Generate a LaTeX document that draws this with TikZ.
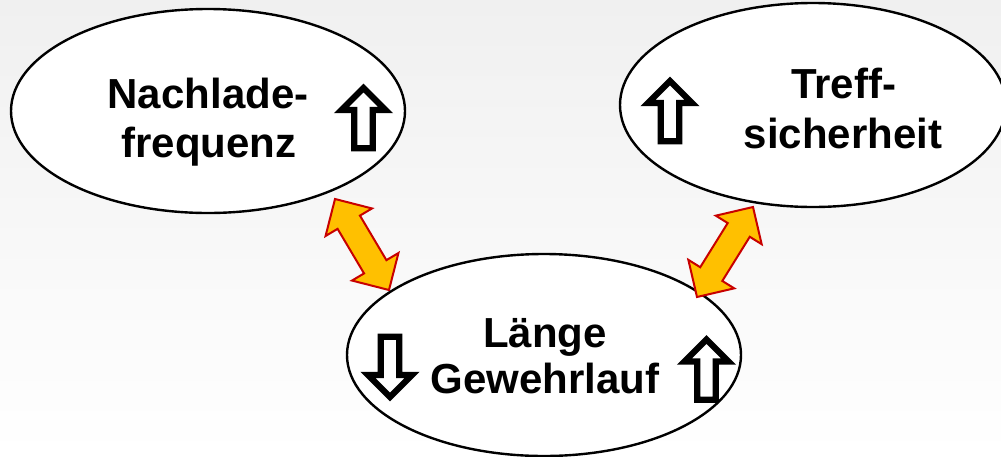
\documentclass[tikz,border=0pt]{standalone}
\usepackage{fontspec}
\setmainfont{Liberation Sans}
\usetikzlibrary{shapes.geometric,calc}
\definecolor{bggray}{RGB}{240,240,240}
\definecolor{arrfill}{RGB}{255,192,0}
\definecolor{arrline}{RGB}{200,0,0}
\tikzset{
  oval/.style={ellipse, draw=black, line width=2.4pt, fill=white, inner sep=0pt},
  lbl/.style={anchor=base, inner sep=0pt, font=\fontsize{42}{48}\selectfont\bfseries},
  blockarrow/.style={draw=black, fill=white, line width=6.3pt, miter limit=10},
  dblarrow/.style={draw=arrline, fill=arrfill, line width=2pt, miter limit=10}
}
\newcommand\blockup[3]{%
  \begin{scope}[shift={(#1,#2)}, rotate=#3]
  \draw[blockarrow] (0,-29.5) -- (22,-7.5) -- (9.25,-7.5) -- (9.25,30.75)
      -- (-9.25,30.75) -- (-9.25,-7.5) -- (-22,-7.5) -- cycle;
  \end{scope}}
\newcommand\dblarrowpath[3]{%
  \coordinate (#1-p) at ($(#2)!27pt!(#3)$);
  \coordinate (#1-q) at ($(#3)!27pt!(#2)$);
  \draw[dblarrow] (#2) -- ($(#1-p)!27pt!90:(#3)$) -- ($(#1-p)!13pt!90:(#3)$)
    -- ($(#1-q)!13pt!-90:(#2)$) -- ($(#1-q)!27pt!-90:(#2)$) -- (#3)
    -- ($(#1-q)!27pt!90:(#2)$) -- ($(#1-q)!13pt!90:(#2)$)
    -- ($(#1-p)!13pt!-90:(#3)$) -- ($(#1-p)!27pt!-90:(#3)$) -- cycle;}
\begin{document}
\begin{tikzpicture}[x=1pt,y=-1pt]
\useasboundingbox (0,0) rectangle (1001,456);
\fill[top color=bggray, bottom color=white] (0,0) rectangle (1001,456);
\clip (0,0) rectangle (1001,456);
% ellipses
\node[oval, minimum width=394pt, minimum height=204pt] (nach) at (208,111) {};
\node[oval, minimum width=386pt, minimum height=204pt] (treff) at (813,105) {};
\node[oval, minimum width=394pt, minimum height=202pt] (lang) at (544,355) {};
% texts
\node[lbl] (nach1) at (208,108) {Nachlade-};
\node[lbl] (nach2) at (209,157) {frequenz};
\node[lbl] (treff1) at (843.5,98) {Treff-};
\node[lbl] (treff2) at (843,148) {sicherheit};
\node[lbl] (lang1) at (545,347) {Länge};
\node[lbl] (lang2) at (545,393) {Gewehrlauf};
% block arrows
\blockup{363.5}{117.5}{0}
\blockup{670}{110.5}{0}
\blockup{390}{367.5}{180}
\blockup{706.5}{369}{0}
% double arrows
\coordinate (la) at (335,199);
\coordinate (lb) at (389,290);
\coordinate (ra) at (753,207);
\coordinate (rb) at (697,297);
\dblarrowpath{left}{la}{lb}
\dblarrowpath{right}{ra}{rb}
\end{tikzpicture}
\end{document}
